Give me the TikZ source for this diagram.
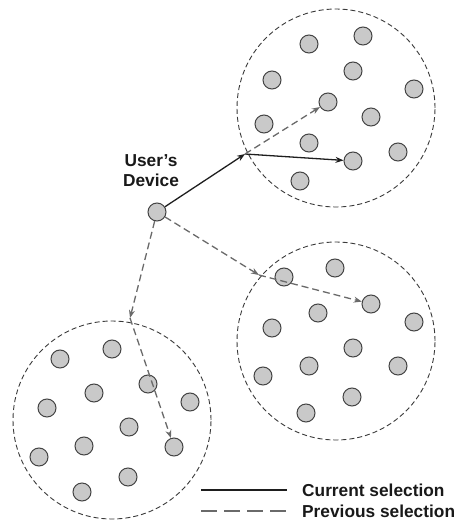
\documentclass[tikz,border=0pt]{standalone}
\usepackage{fontspec}
\setmainfont{Liberation Sans}
\usetikzlibrary{arrows.meta}
\definecolor{nodefill}{HTML}{C9C9C9}
\definecolor{nodeline}{HTML}{444444}
\definecolor{prevcol}{HTML}{6A6A6A}
\definecolor{curcol}{HTML}{1E1E1E}
\definecolor{ringcol}{HTML}{3A3A3A}
\tikzset{
  dot/.style={circle, draw=nodeline, fill=nodefill, line width=1bp, minimum size=18bp, inner sep=0pt},
  ring/.style={circle, draw=ringcol, line width=0.9bp, dash pattern=on 5bp off 3bp, minimum size=198bp, inner sep=0pt},
  cur/.style={draw=curcol, line width=1.3bp, -{Stealth[length=8bp, width=6bp]}},
  prev/.style={draw=prevcol, line width=1.3bp, dash pattern=on 7bp off 4bp, -{Stealth[length=8bp, width=6bp]}},
  lbl/.style={font=\bfseries\fontsize{17.3bp}{20bp}\selectfont, text=black!90, inner sep=0pt}
}
\begin{document}
\begin{tikzpicture}[x=1bp, y=-1bp]
\useasboundingbox (0,0) rectangle (461,523);
% cluster rings
\node[ring] (ringT) at (336,108) {};
\node[ring] (ringM) at (336,341) {};
\node[ring] (ringB) at (112,420) {};
% top cluster
\node[dot] (t1) at (309,44) {};
\node[dot] (t2) at (363,36) {};
\node[dot] (t3) at (272,80) {};
\node[dot] (t4) at (353,71) {};
\node[dot] (t5) at (414,89) {};
\node[dot] (t6) at (328,102) {};
\node[dot] (t7) at (264,124) {};
\node[dot] (t8) at (371,117) {};
\node[dot] (t9) at (309,143) {};
\node[dot] (t10) at (398,152) {};
\node[dot] (t11) at (353,161) {};
\node[dot] (t12) at (300,181) {};
% middle cluster
\node[dot] (m1) at (335,268) {};
\node[dot] (m2) at (284,277) {};
\node[dot] (m3) at (371,304) {};
\node[dot] (m4) at (318,313) {};
\node[dot] (m5) at (272,328) {};
\node[dot] (m6) at (414,322) {};
\node[dot] (m7) at (353,348) {};
\node[dot] (m8) at (309,366) {};
\node[dot] (m9) at (263,376) {};
\node[dot] (m10) at (398,366) {};
\node[dot] (m11) at (352,397) {};
\node[dot] (m12) at (306,413) {};
% bottom cluster
\node[dot] (b1) at (60,359) {};
\node[dot] (b2) at (112,349) {};
\node[dot] (b3) at (148,384) {};
\node[dot] (b4) at (94,393) {};
\node[dot] (b5) at (47,408) {};
\node[dot] (b6) at (190,402) {};
\node[dot] (b7) at (129,427) {};
\node[dot] (b8) at (84,446) {};
\node[dot] (b9) at (174,447) {};
\node[dot] (b10) at (39,457) {};
\node[dot] (b11) at (128,477) {};
\node[dot] (b12) at (82,492) {};
% device
\node[dot] (dev) at (157,212) {};
\node[lbl, align=center] (devlbl) at (151,171) {User's\\Device};
% junctions
\coordinate (jT) at (245,154);
\coordinate (jM) at (259,275);
\coordinate (jB) at (130,318);
% connectors
\draw[cur] (dev) -- (jT);
\draw[cur] (jT) -- (t11);
\draw[prev] (jT) -- (t6);
\draw[prev] (dev) -- (jM);
\draw[prev] (jM) -- (m3);
\draw[prev] (dev) -- (jB);
\draw[prev] (jB) -- (b9);
% legend
\coordinate (l1a) at (201,490);
\coordinate (l1b) at (287,490);
\coordinate (l2a) at (201,511);
\coordinate (l2b) at (287,511);
\draw[curcol, line width=1.5bp] (l1a) -- (l1b);
\draw[prevcol, line width=1.5bp, dash pattern=on 16bp off 7bp] (l2a) -- (l2b);
\node[lbl, anchor=west] (leg1) at (302,490) {Current selection};
\node[lbl, anchor=west] (leg2) at (302,511) {Previous selection};
\end{tikzpicture}
\end{document}
